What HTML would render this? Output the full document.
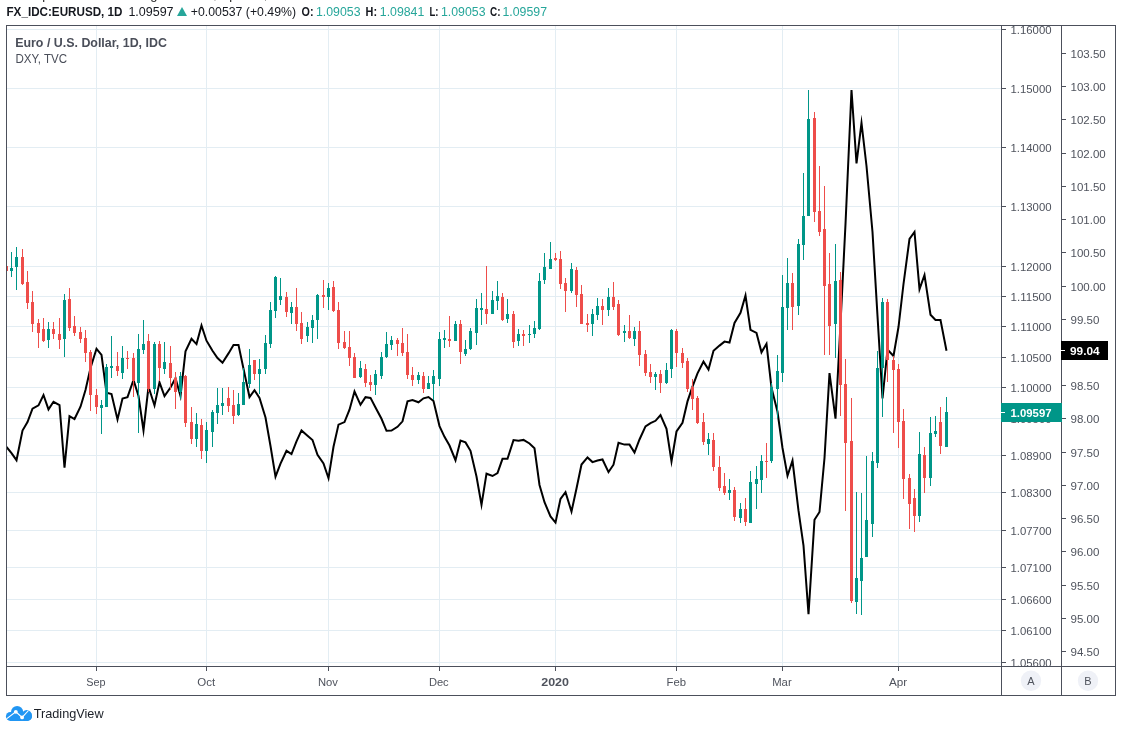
<!DOCTYPE html><html><head><meta charset="utf-8"><title>EURUSD</title>
<style>html,body{margin:0;padding:0;background:#fff;width:1122px;height:750px;overflow:hidden}svg{position:absolute;left:0;top:0;display:block;will-change:transform}text{font-family:"Liberation Sans",sans-serif}</style></head><body>
<svg width="1122" height="750" viewBox="0 0 1122 750">
<rect x="0" y="0" width="1122" height="750" fill="#fff"/>
<defs><clipPath id="pane"><rect x="7" y="26" width="994" height="640"/></clipPath></defs>
<g fill="#e3edf3" shape-rendering="crispEdges">
<rect x="7" y="29" width="994" height="1"/>
<rect x="7" y="88" width="994" height="1"/>
<rect x="7" y="147" width="994" height="1"/>
<rect x="7" y="206" width="994" height="1"/>
<rect x="7" y="266" width="994" height="1"/>
<rect x="7" y="296" width="994" height="1"/>
<rect x="7" y="326" width="994" height="1"/>
<rect x="7" y="357" width="994" height="1"/>
<rect x="7" y="387" width="994" height="1"/>
<rect x="7" y="418" width="994" height="1"/>
<rect x="7" y="455" width="994" height="1"/>
<rect x="7" y="492" width="994" height="1"/>
<rect x="7" y="530" width="994" height="1"/>
<rect x="7" y="567" width="994" height="1"/>
<rect x="7" y="599" width="994" height="1"/>
<rect x="7" y="630" width="994" height="1"/>
<rect x="7" y="662" width="994" height="1"/>
<rect x="96" y="26" width="1" height="640"/>
<rect x="206" y="26" width="1" height="640"/>
<rect x="328" y="26" width="1" height="640"/>
<rect x="439" y="26" width="1" height="640"/>
<rect x="555" y="26" width="1" height="640"/>
<rect x="676" y="26" width="1" height="640"/>
<rect x="782" y="26" width="1" height="640"/>
<rect x="898" y="26" width="1" height="640"/>
</g>
<polyline clip-path="url(#pane)" points="6.5,447.0 11.5,453.2 16.5,460.2 22.5,430.5 27.5,422.1 32.5,408.7 38.5,405.4 43.5,395.0 48.5,409.4 53.5,401.8 59.5,405.0 64.5,467.6 69.5,416.1 74.5,419.0 80.5,406.7 85.5,390.0 90.5,368.0 96.5,348.8 101.5,354.8 106.5,392.8 111.5,394.0 117.5,419.4 122.5,398.5 127.5,397.1 133.5,380.0 138.5,396.0 143.5,430.4 148.5,386.8 154.5,405.5 159.5,382.4 164.5,396.0 170.5,387.5 175.5,378.2 180.5,396.0 185.5,351.4 191.5,338.7 196.5,344.1 201.5,325.4 206.5,340.7 212.5,350.8 217.5,358.1 222.5,362.8 228.5,353.4 233.5,345.0 238.5,345.0 243.5,368.8 249.5,397.0 254.5,390.2 259.5,398.0 265.5,417.5 270.5,446.0 275.5,476.7 280.5,463.7 286.5,450.8 291.5,454.1 296.5,441.4 301.5,430.4 307.5,435.7 312.5,440.0 317.5,454.8 323.5,463.5 328.5,478.2 333.5,446.8 338.5,424.6 344.5,422.1 349.5,409.7 354.5,391.5 360.5,404.8 365.5,397.2 370.5,397.9 375.5,407.5 381.5,418.8 386.5,430.8 391.5,430.6 397.5,426.8 402.5,421.3 407.5,401.4 412.5,400.0 418.5,402.3 423.5,398.3 428.5,397.0 433.5,401.0 439.5,426.1 444.5,436.8 449.5,445.5 455.5,460.2 460.5,440.6 465.5,442.4 470.5,450.8 476.5,476.5 481.5,504.8 486.5,473.7 492.5,476.0 497.5,473.0 502.5,458.8 507.5,458.8 513.5,440.1 518.5,440.8 523.5,439.9 529.5,443.5 534.5,448.3 539.5,485.0 544.5,502.2 550.5,516.5 555.5,522.6 560.5,498.8 565.5,492.1 571.5,511.5 576.5,488.5 581.5,464.5 587.5,457.4 592.5,462.1 597.5,460.5 602.5,459.5 608.5,472.1 613.5,464.7 618.5,442.8 624.5,444.6 629.5,444.6 634.5,452.6 639.5,439.5 645.5,426.4 650.5,423.2 655.5,420.8 660.5,415.0 666.5,428.8 671.5,461.4 676.5,431.5 682.5,422.8 687.5,401.4 692.5,386.7 697.5,373.4 703.5,361.6 708.5,369.5 713.5,350.8 719.5,345.6 724.5,341.6 729.5,342.5 734.5,322.9 740.5,312.8 745.5,295.5 750.5,329.9 756.5,332.9 761.5,352.3 766.5,343.8 771.5,387.8 777.5,411.8 782.5,448.0 787.5,475.8 792.5,460.6 798.5,510.7 803.5,545.5 808.5,614.3 814.5,519.8 819.5,512.0 824.5,458.0 829.5,373.1 835.5,418.6 840.5,324.0 845.5,224.0 851.5,90.0 856.5,163.5 861.5,123.0 866.5,166.0 872.5,232.0 877.5,316.0 882.5,398.5 887.5,349.5 893.5,356.0 898.5,327.0 903.5,284.0 909.5,239.0 914.5,232.0 919.5,289.2 924.5,275.0 930.5,314.7 935.5,320.0 940.5,320.0 946.5,350.7" fill="none" stroke="#000" stroke-width="2" stroke-linejoin="miter" stroke-miterlimit="10"/>
<g clip-path="url(#pane)" shape-rendering="crispEdges">
<rect x="6" y="264" width="1" height="8" fill="#ee4d4a"/><rect x="5" y="266" width="3" height="5" fill="#ee4d4a"/>
<rect x="11" y="252" width="1" height="25" fill="#009688"/><rect x="10" y="268" width="3" height="3" fill="#009688"/>
<rect x="16" y="247" width="1" height="43" fill="#009688"/><rect x="15" y="257" width="3" height="10" fill="#009688"/>
<rect x="22" y="249" width="1" height="36" fill="#ee4d4a"/><rect x="21" y="257" width="3" height="27" fill="#ee4d4a"/>
<rect x="27" y="271" width="1" height="38" fill="#ee4d4a"/><rect x="26" y="282" width="3" height="21" fill="#ee4d4a"/>
<rect x="32" y="291" width="1" height="41" fill="#ee4d4a"/><rect x="31" y="302" width="3" height="22" fill="#ee4d4a"/>
<rect x="38" y="319" width="1" height="29" fill="#ee4d4a"/><rect x="37" y="323" width="3" height="10" fill="#ee4d4a"/>
<rect x="43" y="318" width="1" height="24" fill="#ee4d4a"/><rect x="42" y="329" width="3" height="12" fill="#ee4d4a"/>
<rect x="48" y="322" width="1" height="26" fill="#009688"/><rect x="47" y="329" width="3" height="11" fill="#009688"/>
<rect x="53" y="322" width="1" height="17" fill="#ee4d4a"/><rect x="52" y="329" width="3" height="5" fill="#ee4d4a"/>
<rect x="59" y="318" width="1" height="31" fill="#ee4d4a"/><rect x="58" y="334" width="3" height="6" fill="#ee4d4a"/>
<rect x="64" y="294" width="1" height="63" fill="#009688"/><rect x="63" y="300" width="3" height="39" fill="#009688"/>
<rect x="69" y="288" width="1" height="43" fill="#ee4d4a"/><rect x="68" y="299" width="3" height="29" fill="#ee4d4a"/>
<rect x="74" y="316" width="1" height="20" fill="#ee4d4a"/><rect x="73" y="326" width="3" height="7" fill="#ee4d4a"/>
<rect x="80" y="327" width="1" height="16" fill="#ee4d4a"/><rect x="79" y="332" width="3" height="7" fill="#ee4d4a"/>
<rect x="85" y="330" width="1" height="32" fill="#ee4d4a"/><rect x="84" y="338" width="3" height="15" fill="#ee4d4a"/>
<rect x="90" y="350" width="1" height="61" fill="#ee4d4a"/><rect x="89" y="352" width="3" height="43" fill="#ee4d4a"/>
<rect x="96" y="389" width="1" height="25" fill="#ee4d4a"/><rect x="95" y="395" width="3" height="12" fill="#ee4d4a"/>
<rect x="101" y="400" width="1" height="34" fill="#009688"/><rect x="100" y="405" width="3" height="3" fill="#009688"/>
<rect x="106" y="364" width="1" height="43" fill="#009688"/><rect x="105" y="367" width="3" height="40" fill="#009688"/>
<rect x="111" y="336" width="1" height="42" fill="#009688"/><rect x="110" y="366" width="3" height="2" fill="#009688"/>
<rect x="117" y="352" width="1" height="24" fill="#ee4d4a"/><rect x="116" y="366" width="3" height="5" fill="#ee4d4a"/>
<rect x="122" y="346" width="1" height="33" fill="#009688"/><rect x="121" y="358" width="3" height="15" fill="#009688"/>
<rect x="127" y="351" width="1" height="18" fill="#ee4d4a"/><rect x="126" y="358" width="3" height="1" fill="#ee4d4a"/>
<rect x="133" y="353" width="1" height="44" fill="#ee4d4a"/><rect x="132" y="358" width="3" height="23" fill="#ee4d4a"/>
<rect x="138" y="334" width="1" height="99" fill="#009688"/><rect x="137" y="349" width="3" height="34" fill="#009688"/>
<rect x="143" y="320" width="1" height="34" fill="#009688"/><rect x="142" y="344" width="3" height="6" fill="#009688"/>
<rect x="148" y="334" width="1" height="58" fill="#ee4d4a"/><rect x="147" y="341" width="3" height="48" fill="#ee4d4a"/>
<rect x="154" y="342" width="1" height="52" fill="#009688"/><rect x="153" y="344" width="3" height="45" fill="#009688"/>
<rect x="159" y="341" width="1" height="40" fill="#ee4d4a"/><rect x="158" y="344" width="3" height="24" fill="#ee4d4a"/>
<rect x="164" y="342" width="1" height="32" fill="#009688"/><rect x="163" y="362" width="3" height="7" fill="#009688"/>
<rect x="170" y="346" width="1" height="44" fill="#ee4d4a"/><rect x="169" y="363" width="3" height="15" fill="#ee4d4a"/>
<rect x="175" y="372" width="1" height="37" fill="#ee4d4a"/><rect x="174" y="378" width="3" height="14" fill="#ee4d4a"/>
<rect x="180" y="372" width="1" height="27" fill="#009688"/><rect x="179" y="376" width="3" height="16" fill="#009688"/>
<rect x="185" y="375" width="1" height="52" fill="#ee4d4a"/><rect x="184" y="376" width="3" height="47" fill="#ee4d4a"/>
<rect x="191" y="407" width="1" height="37" fill="#ee4d4a"/><rect x="190" y="422" width="3" height="17" fill="#ee4d4a"/>
<rect x="196" y="413" width="1" height="34" fill="#009688"/><rect x="195" y="424" width="3" height="15" fill="#009688"/>
<rect x="201" y="419" width="1" height="40" fill="#ee4d4a"/><rect x="200" y="425" width="3" height="26" fill="#ee4d4a"/>
<rect x="206" y="422" width="1" height="41" fill="#009688"/><rect x="205" y="430" width="3" height="21" fill="#009688"/>
<rect x="212" y="410" width="1" height="37" fill="#009688"/><rect x="211" y="412" width="3" height="20" fill="#009688"/>
<rect x="217" y="388" width="1" height="36" fill="#009688"/><rect x="216" y="405" width="3" height="8" fill="#009688"/>
<rect x="222" y="388" width="1" height="27" fill="#009688"/><rect x="221" y="403" width="3" height="3" fill="#009688"/>
<rect x="228" y="387" width="1" height="25" fill="#ee4d4a"/><rect x="227" y="398" width="3" height="8" fill="#ee4d4a"/>
<rect x="233" y="390" width="1" height="34" fill="#ee4d4a"/><rect x="232" y="405" width="3" height="11" fill="#ee4d4a"/>
<rect x="238" y="393" width="1" height="23" fill="#009688"/><rect x="237" y="404" width="3" height="11" fill="#009688"/>
<rect x="243" y="368" width="1" height="37" fill="#009688"/><rect x="242" y="382" width="3" height="23" fill="#009688"/>
<rect x="249" y="349" width="1" height="39" fill="#009688"/><rect x="248" y="365" width="3" height="19" fill="#009688"/>
<rect x="254" y="360" width="1" height="20" fill="#ee4d4a"/><rect x="253" y="360" width="3" height="14" fill="#ee4d4a"/>
<rect x="259" y="359" width="1" height="35" fill="#009688"/><rect x="258" y="369" width="3" height="5" fill="#009688"/>
<rect x="265" y="335" width="1" height="39" fill="#009688"/><rect x="264" y="343" width="3" height="26" fill="#009688"/>
<rect x="270" y="302" width="1" height="46" fill="#009688"/><rect x="269" y="310" width="3" height="34" fill="#009688"/>
<rect x="275" y="276" width="1" height="42" fill="#009688"/><rect x="274" y="277" width="3" height="34" fill="#009688"/>
<rect x="280" y="278" width="1" height="27" fill="#009688"/><rect x="279" y="296" width="3" height="4" fill="#009688"/>
<rect x="286" y="292" width="1" height="25" fill="#ee4d4a"/><rect x="285" y="297" width="3" height="15" fill="#ee4d4a"/>
<rect x="291" y="302" width="1" height="22" fill="#009688"/><rect x="290" y="307" width="3" height="6" fill="#009688"/>
<rect x="296" y="288" width="1" height="43" fill="#ee4d4a"/><rect x="295" y="307" width="3" height="17" fill="#ee4d4a"/>
<rect x="301" y="312" width="1" height="32" fill="#ee4d4a"/><rect x="300" y="323" width="3" height="16" fill="#ee4d4a"/>
<rect x="307" y="322" width="1" height="20" fill="#009688"/><rect x="306" y="327" width="3" height="9" fill="#009688"/>
<rect x="312" y="315" width="1" height="28" fill="#009688"/><rect x="311" y="320" width="3" height="8" fill="#009688"/>
<rect x="317" y="294" width="1" height="45" fill="#009688"/><rect x="316" y="295" width="3" height="25" fill="#009688"/>
<rect x="323" y="280" width="1" height="28" fill="#ee4d4a"/><rect x="322" y="295" width="3" height="2" fill="#ee4d4a"/>
<rect x="328" y="283" width="1" height="27" fill="#009688"/><rect x="327" y="288" width="3" height="9" fill="#009688"/>
<rect x="333" y="281" width="1" height="31" fill="#ee4d4a"/><rect x="332" y="287" width="3" height="24" fill="#ee4d4a"/>
<rect x="338" y="302" width="1" height="47" fill="#ee4d4a"/><rect x="337" y="310" width="3" height="33" fill="#ee4d4a"/>
<rect x="344" y="331" width="1" height="18" fill="#ee4d4a"/><rect x="343" y="342" width="3" height="6" fill="#ee4d4a"/>
<rect x="349" y="331" width="1" height="35" fill="#ee4d4a"/><rect x="348" y="347" width="3" height="11" fill="#ee4d4a"/>
<rect x="354" y="353" width="1" height="25" fill="#ee4d4a"/><rect x="353" y="357" width="3" height="21" fill="#ee4d4a"/>
<rect x="360" y="361" width="1" height="17" fill="#009688"/><rect x="359" y="368" width="3" height="9" fill="#009688"/>
<rect x="365" y="364" width="1" height="23" fill="#ee4d4a"/><rect x="364" y="369" width="3" height="14" fill="#ee4d4a"/>
<rect x="370" y="375" width="1" height="16" fill="#ee4d4a"/><rect x="369" y="382" width="3" height="3" fill="#ee4d4a"/>
<rect x="375" y="370" width="1" height="25" fill="#009688"/><rect x="374" y="374" width="3" height="11" fill="#009688"/>
<rect x="381" y="352" width="1" height="27" fill="#009688"/><rect x="380" y="357" width="3" height="19" fill="#009688"/>
<rect x="386" y="332" width="1" height="26" fill="#009688"/><rect x="385" y="344" width="3" height="13" fill="#009688"/>
<rect x="391" y="336" width="1" height="14" fill="#009688"/><rect x="390" y="340" width="3" height="5" fill="#009688"/>
<rect x="397" y="338" width="1" height="18" fill="#ee4d4a"/><rect x="396" y="340" width="3" height="4" fill="#ee4d4a"/>
<rect x="402" y="328" width="1" height="28" fill="#ee4d4a"/><rect x="401" y="343" width="3" height="10" fill="#ee4d4a"/>
<rect x="407" y="334" width="1" height="45" fill="#ee4d4a"/><rect x="406" y="352" width="3" height="23" fill="#ee4d4a"/>
<rect x="412" y="367" width="1" height="19" fill="#ee4d4a"/><rect x="411" y="375" width="3" height="5" fill="#ee4d4a"/>
<rect x="418" y="372" width="1" height="12" fill="#009688"/><rect x="417" y="375" width="3" height="5" fill="#009688"/>
<rect x="423" y="372" width="1" height="21" fill="#ee4d4a"/><rect x="422" y="376" width="3" height="13" fill="#ee4d4a"/>
<rect x="428" y="376" width="1" height="13" fill="#009688"/><rect x="427" y="383" width="3" height="6" fill="#009688"/>
<rect x="433" y="370" width="1" height="30" fill="#009688"/><rect x="432" y="376" width="3" height="8" fill="#009688"/>
<rect x="439" y="332" width="1" height="54" fill="#009688"/><rect x="438" y="339" width="3" height="40" fill="#009688"/>
<rect x="444" y="330" width="1" height="18" fill="#009688"/><rect x="443" y="338" width="3" height="2" fill="#009688"/>
<rect x="449" y="316" width="1" height="31" fill="#ee4d4a"/><rect x="448" y="339" width="3" height="2" fill="#ee4d4a"/>
<rect x="455" y="321" width="1" height="20" fill="#009688"/><rect x="454" y="324" width="3" height="17" fill="#009688"/>
<rect x="460" y="320" width="1" height="44" fill="#ee4d4a"/><rect x="459" y="324" width="3" height="28" fill="#ee4d4a"/>
<rect x="465" y="340" width="1" height="16" fill="#009688"/><rect x="464" y="349" width="3" height="5" fill="#009688"/>
<rect x="470" y="328" width="1" height="22" fill="#009688"/><rect x="469" y="331" width="3" height="18" fill="#009688"/>
<rect x="476" y="299" width="1" height="46" fill="#009688"/><rect x="475" y="308" width="3" height="25" fill="#009688"/>
<rect x="481" y="293" width="1" height="32" fill="#009688"/><rect x="480" y="308" width="3" height="2" fill="#009688"/>
<rect x="486" y="266" width="1" height="58" fill="#ee4d4a"/><rect x="485" y="309" width="3" height="5" fill="#ee4d4a"/>
<rect x="492" y="291" width="1" height="23" fill="#009688"/><rect x="491" y="300" width="3" height="14" fill="#009688"/>
<rect x="497" y="281" width="1" height="29" fill="#009688"/><rect x="496" y="296" width="3" height="5" fill="#009688"/>
<rect x="502" y="293" width="1" height="28" fill="#ee4d4a"/><rect x="501" y="297" width="3" height="23" fill="#ee4d4a"/>
<rect x="507" y="299" width="1" height="24" fill="#009688"/><rect x="506" y="314" width="3" height="5" fill="#009688"/>
<rect x="513" y="311" width="1" height="37" fill="#ee4d4a"/><rect x="512" y="314" width="3" height="28" fill="#ee4d4a"/>
<rect x="518" y="329" width="1" height="17" fill="#009688"/><rect x="517" y="334" width="3" height="7" fill="#009688"/>
<rect x="523" y="330" width="1" height="16" fill="#ee4d4a"/><rect x="522" y="334" width="3" height="2" fill="#ee4d4a"/>
<rect x="529" y="325" width="1" height="18" fill="#009688"/><rect x="528" y="334" width="3" height="1" fill="#009688"/>
<rect x="534" y="321" width="1" height="17" fill="#009688"/><rect x="533" y="328" width="3" height="6" fill="#009688"/>
<rect x="539" y="273" width="1" height="57" fill="#009688"/><rect x="538" y="281" width="3" height="48" fill="#009688"/>
<rect x="544" y="253" width="1" height="31" fill="#009688"/><rect x="543" y="267" width="3" height="13" fill="#009688"/>
<rect x="550" y="242" width="1" height="27" fill="#009688"/><rect x="549" y="259" width="3" height="10" fill="#009688"/>
<rect x="555" y="253" width="1" height="8" fill="#ee4d4a"/><rect x="554" y="258" width="3" height="2" fill="#ee4d4a"/>
<rect x="560" y="251" width="1" height="38" fill="#ee4d4a"/><rect x="559" y="259" width="3" height="25" fill="#ee4d4a"/>
<rect x="565" y="278" width="1" height="34" fill="#ee4d4a"/><rect x="564" y="283" width="3" height="8" fill="#ee4d4a"/>
<rect x="571" y="263" width="1" height="30" fill="#009688"/><rect x="570" y="269" width="3" height="22" fill="#009688"/>
<rect x="576" y="267" width="1" height="40" fill="#ee4d4a"/><rect x="575" y="270" width="3" height="25" fill="#ee4d4a"/>
<rect x="581" y="285" width="1" height="39" fill="#ee4d4a"/><rect x="580" y="294" width="3" height="30" fill="#ee4d4a"/>
<rect x="587" y="314" width="1" height="18" fill="#ee4d4a"/><rect x="586" y="323" width="3" height="2" fill="#ee4d4a"/>
<rect x="592" y="309" width="1" height="27" fill="#009688"/><rect x="591" y="314" width="3" height="10" fill="#009688"/>
<rect x="597" y="298" width="1" height="22" fill="#009688"/><rect x="596" y="306" width="3" height="9" fill="#009688"/>
<rect x="602" y="299" width="1" height="26" fill="#ee4d4a"/><rect x="601" y="306" width="3" height="4" fill="#ee4d4a"/>
<rect x="608" y="288" width="1" height="28" fill="#009688"/><rect x="607" y="297" width="3" height="13" fill="#009688"/>
<rect x="613" y="282" width="1" height="28" fill="#ee4d4a"/><rect x="612" y="297" width="3" height="10" fill="#ee4d4a"/>
<rect x="618" y="300" width="1" height="36" fill="#ee4d4a"/><rect x="617" y="304" width="3" height="31" fill="#ee4d4a"/>
<rect x="624" y="325" width="1" height="17" fill="#009688"/><rect x="623" y="331" width="3" height="2" fill="#009688"/>
<rect x="629" y="315" width="1" height="24" fill="#ee4d4a"/><rect x="628" y="331" width="3" height="7" fill="#ee4d4a"/>
<rect x="634" y="327" width="1" height="19" fill="#009688"/><rect x="633" y="331" width="3" height="8" fill="#009688"/>
<rect x="639" y="321" width="1" height="45" fill="#ee4d4a"/><rect x="638" y="331" width="3" height="24" fill="#ee4d4a"/>
<rect x="645" y="350" width="1" height="26" fill="#ee4d4a"/><rect x="644" y="354" width="3" height="19" fill="#ee4d4a"/>
<rect x="650" y="364" width="1" height="19" fill="#ee4d4a"/><rect x="649" y="372" width="3" height="5" fill="#ee4d4a"/>
<rect x="655" y="372" width="1" height="18" fill="#009688"/><rect x="654" y="374" width="3" height="3" fill="#009688"/>
<rect x="660" y="370" width="1" height="23" fill="#ee4d4a"/><rect x="659" y="374" width="3" height="9" fill="#ee4d4a"/>
<rect x="666" y="363" width="1" height="21" fill="#009688"/><rect x="665" y="370" width="3" height="13" fill="#009688"/>
<rect x="671" y="329" width="1" height="49" fill="#009688"/><rect x="670" y="330" width="3" height="39" fill="#009688"/>
<rect x="676" y="329" width="1" height="38" fill="#ee4d4a"/><rect x="675" y="331" width="3" height="22" fill="#ee4d4a"/>
<rect x="682" y="348" width="1" height="20" fill="#ee4d4a"/><rect x="681" y="353" width="3" height="10" fill="#ee4d4a"/>
<rect x="687" y="358" width="1" height="34" fill="#ee4d4a"/><rect x="686" y="361" width="3" height="28" fill="#ee4d4a"/>
<rect x="692" y="379" width="1" height="31" fill="#ee4d4a"/><rect x="691" y="387" width="3" height="12" fill="#ee4d4a"/>
<rect x="697" y="396" width="1" height="28" fill="#ee4d4a"/><rect x="696" y="398" width="3" height="25" fill="#ee4d4a"/>
<rect x="703" y="413" width="1" height="32" fill="#ee4d4a"/><rect x="702" y="422" width="3" height="20" fill="#ee4d4a"/>
<rect x="708" y="433" width="1" height="22" fill="#009688"/><rect x="707" y="439" width="3" height="5" fill="#009688"/>
<rect x="713" y="433" width="1" height="38" fill="#ee4d4a"/><rect x="712" y="440" width="3" height="27" fill="#ee4d4a"/>
<rect x="719" y="456" width="1" height="35" fill="#ee4d4a"/><rect x="718" y="467" width="3" height="21" fill="#ee4d4a"/>
<rect x="724" y="473" width="1" height="22" fill="#ee4d4a"/><rect x="723" y="486" width="3" height="7" fill="#ee4d4a"/>
<rect x="729" y="479" width="1" height="21" fill="#009688"/><rect x="728" y="490" width="3" height="3" fill="#009688"/>
<rect x="734" y="487" width="1" height="34" fill="#ee4d4a"/><rect x="733" y="490" width="3" height="27" fill="#ee4d4a"/>
<rect x="740" y="503" width="1" height="20" fill="#009688"/><rect x="739" y="509" width="3" height="9" fill="#009688"/>
<rect x="745" y="498" width="1" height="28" fill="#ee4d4a"/><rect x="744" y="509" width="3" height="13" fill="#ee4d4a"/>
<rect x="750" y="471" width="1" height="52" fill="#009688"/><rect x="749" y="482" width="3" height="41" fill="#009688"/>
<rect x="756" y="466" width="1" height="43" fill="#009688"/><rect x="755" y="479" width="3" height="5" fill="#009688"/>
<rect x="761" y="455" width="1" height="38" fill="#009688"/><rect x="760" y="461" width="3" height="19" fill="#009688"/>
<rect x="766" y="443" width="1" height="35" fill="#ee4d4a"/><rect x="765" y="461" width="3" height="1" fill="#ee4d4a"/>
<rect x="771" y="383" width="1" height="80" fill="#009688"/><rect x="770" y="387" width="3" height="74" fill="#009688"/>
<rect x="777" y="355" width="1" height="63" fill="#009688"/><rect x="776" y="371" width="3" height="18" fill="#009688"/>
<rect x="782" y="275" width="1" height="107" fill="#009688"/><rect x="781" y="307" width="3" height="66" fill="#009688"/>
<rect x="787" y="258" width="1" height="72" fill="#009688"/><rect x="786" y="283" width="3" height="25" fill="#009688"/>
<rect x="792" y="273" width="1" height="57" fill="#ee4d4a"/><rect x="791" y="283" width="3" height="24" fill="#ee4d4a"/>
<rect x="798" y="239" width="1" height="76" fill="#009688"/><rect x="797" y="244" width="3" height="62" fill="#009688"/>
<rect x="803" y="173" width="1" height="87" fill="#009688"/><rect x="802" y="216" width="3" height="29" fill="#009688"/>
<rect x="808" y="90" width="1" height="126" fill="#009688"/><rect x="807" y="119" width="3" height="97" fill="#009688"/>
<rect x="814" y="112" width="1" height="110" fill="#ee4d4a"/><rect x="813" y="118" width="3" height="94" fill="#ee4d4a"/>
<rect x="819" y="166" width="1" height="70" fill="#ee4d4a"/><rect x="818" y="211" width="3" height="21" fill="#ee4d4a"/>
<rect x="824" y="186" width="1" height="169" fill="#ee4d4a"/><rect x="823" y="229" width="3" height="57" fill="#ee4d4a"/>
<rect x="829" y="253" width="1" height="102" fill="#ee4d4a"/><rect x="828" y="284" width="3" height="42" fill="#ee4d4a"/>
<rect x="835" y="244" width="1" height="114" fill="#009688"/><rect x="834" y="281" width="3" height="43" fill="#009688"/>
<rect x="840" y="272" width="1" height="144" fill="#ee4d4a"/><rect x="839" y="280" width="3" height="105" fill="#ee4d4a"/>
<rect x="845" y="359" width="1" height="152" fill="#ee4d4a"/><rect x="844" y="384" width="3" height="59" fill="#ee4d4a"/>
<rect x="851" y="398" width="1" height="205" fill="#ee4d4a"/><rect x="850" y="441" width="3" height="160" fill="#ee4d4a"/>
<rect x="856" y="492" width="1" height="122" fill="#009688"/><rect x="855" y="578" width="3" height="24" fill="#009688"/>
<rect x="861" y="493" width="1" height="122" fill="#009688"/><rect x="860" y="558" width="3" height="23" fill="#009688"/>
<rect x="866" y="456" width="1" height="101" fill="#009688"/><rect x="865" y="520" width="3" height="37" fill="#009688"/>
<rect x="872" y="452" width="1" height="85" fill="#009688"/><rect x="871" y="461" width="3" height="63" fill="#009688"/>
<rect x="877" y="351" width="1" height="117" fill="#009688"/><rect x="876" y="368" width="3" height="95" fill="#009688"/>
<rect x="882" y="298" width="1" height="119" fill="#009688"/><rect x="881" y="302" width="3" height="66" fill="#009688"/>
<rect x="887" y="299" width="1" height="83" fill="#ee4d4a"/><rect x="886" y="302" width="3" height="58" fill="#ee4d4a"/>
<rect x="893" y="356" width="1" height="77" fill="#ee4d4a"/><rect x="892" y="360" width="3" height="10" fill="#ee4d4a"/>
<rect x="898" y="364" width="1" height="84" fill="#ee4d4a"/><rect x="897" y="369" width="3" height="53" fill="#ee4d4a"/>
<rect x="903" y="409" width="1" height="90" fill="#ee4d4a"/><rect x="902" y="421" width="3" height="58" fill="#ee4d4a"/>
<rect x="909" y="474" width="1" height="55" fill="#ee4d4a"/><rect x="908" y="478" width="3" height="26" fill="#ee4d4a"/>
<rect x="914" y="489" width="1" height="43" fill="#ee4d4a"/><rect x="913" y="498" width="3" height="18" fill="#ee4d4a"/>
<rect x="919" y="432" width="1" height="90" fill="#009688"/><rect x="918" y="454" width="3" height="62" fill="#009688"/>
<rect x="924" y="447" width="1" height="46" fill="#ee4d4a"/><rect x="923" y="455" width="3" height="23" fill="#ee4d4a"/>
<rect x="930" y="417" width="1" height="69" fill="#009688"/><rect x="929" y="433" width="3" height="45" fill="#009688"/>
<rect x="935" y="416" width="1" height="21" fill="#009688"/><rect x="934" y="431" width="3" height="3" fill="#009688"/>
<rect x="940" y="407" width="1" height="47" fill="#ee4d4a"/><rect x="939" y="422" width="3" height="24" fill="#ee4d4a"/>
<rect x="946" y="397" width="1" height="50" fill="#009688"/><rect x="945" y="412" width="3" height="35" fill="#009688"/>
</g>
<g fill="#4c505b" shape-rendering="crispEdges">
<rect x="6" y="25" width="1110" height="1"/>
<rect x="6" y="695" width="1110" height="1"/>
<rect x="6" y="25" width="1" height="671"/>
<rect x="1115" y="25" width="1" height="671"/>
<rect x="1001" y="25" width="1" height="671"/>
<rect x="1061" y="25" width="1" height="671"/>
<rect x="6" y="666" width="1110" height="1"/>
<rect x="96" y="667" width="1" height="4"/>
<rect x="206" y="667" width="1" height="4"/>
<rect x="328" y="667" width="1" height="4"/>
<rect x="439" y="667" width="1" height="4"/>
<rect x="555" y="667" width="1" height="4"/>
<rect x="676" y="667" width="1" height="4"/>
<rect x="782" y="667" width="1" height="4"/>
<rect x="898" y="667" width="1" height="4"/>
</g>
<defs><clipPath id="axA"><rect x="1002" y="26" width="59" height="640"/></clipPath><clipPath id="axB"><rect x="1062" y="26" width="53" height="640"/></clipPath></defs>
<g clip-path="url(#axA)" font-size="11.7" fill="#4f535d">
<rect x="1002" y="29" width="4" height="1" fill="#4c505b" shape-rendering="crispEdges"/>
<text x="1010.5" y="33.8" textLength="41" lengthAdjust="spacingAndGlyphs">1.16000</text>
<rect x="1002" y="88" width="4" height="1" fill="#4c505b" shape-rendering="crispEdges"/>
<text x="1010.5" y="92.8" textLength="41" lengthAdjust="spacingAndGlyphs">1.15000</text>
<rect x="1002" y="147" width="4" height="1" fill="#4c505b" shape-rendering="crispEdges"/>
<text x="1010.5" y="151.8" textLength="41" lengthAdjust="spacingAndGlyphs">1.14000</text>
<rect x="1002" y="206" width="4" height="1" fill="#4c505b" shape-rendering="crispEdges"/>
<text x="1010.5" y="210.8" textLength="41" lengthAdjust="spacingAndGlyphs">1.13000</text>
<rect x="1002" y="266" width="4" height="1" fill="#4c505b" shape-rendering="crispEdges"/>
<text x="1010.5" y="270.8" textLength="41" lengthAdjust="spacingAndGlyphs">1.12000</text>
<rect x="1002" y="296" width="4" height="1" fill="#4c505b" shape-rendering="crispEdges"/>
<text x="1010.5" y="300.8" textLength="41" lengthAdjust="spacingAndGlyphs">1.11500</text>
<rect x="1002" y="326" width="4" height="1" fill="#4c505b" shape-rendering="crispEdges"/>
<text x="1010.5" y="330.8" textLength="41" lengthAdjust="spacingAndGlyphs">1.11000</text>
<rect x="1002" y="357" width="4" height="1" fill="#4c505b" shape-rendering="crispEdges"/>
<text x="1010.5" y="361.8" textLength="41" lengthAdjust="spacingAndGlyphs">1.10500</text>
<rect x="1002" y="387" width="4" height="1" fill="#4c505b" shape-rendering="crispEdges"/>
<text x="1010.5" y="391.8" textLength="41" lengthAdjust="spacingAndGlyphs">1.10000</text>
<rect x="1002" y="418" width="4" height="1" fill="#4c505b" shape-rendering="crispEdges"/>
<text x="1010.5" y="422.8" textLength="41" lengthAdjust="spacingAndGlyphs">1.09500</text>
<rect x="1002" y="455" width="4" height="1" fill="#4c505b" shape-rendering="crispEdges"/>
<text x="1010.5" y="459.8" textLength="41" lengthAdjust="spacingAndGlyphs">1.08900</text>
<rect x="1002" y="492" width="4" height="1" fill="#4c505b" shape-rendering="crispEdges"/>
<text x="1010.5" y="496.8" textLength="41" lengthAdjust="spacingAndGlyphs">1.08300</text>
<rect x="1002" y="530" width="4" height="1" fill="#4c505b" shape-rendering="crispEdges"/>
<text x="1010.5" y="534.8" textLength="41" lengthAdjust="spacingAndGlyphs">1.07700</text>
<rect x="1002" y="567" width="4" height="1" fill="#4c505b" shape-rendering="crispEdges"/>
<text x="1010.5" y="571.8" textLength="41" lengthAdjust="spacingAndGlyphs">1.07100</text>
<rect x="1002" y="599" width="4" height="1" fill="#4c505b" shape-rendering="crispEdges"/>
<text x="1010.5" y="603.8" textLength="41" lengthAdjust="spacingAndGlyphs">1.06600</text>
<rect x="1002" y="630" width="4" height="1" fill="#4c505b" shape-rendering="crispEdges"/>
<text x="1010.5" y="634.8" textLength="41" lengthAdjust="spacingAndGlyphs">1.06100</text>
<rect x="1002" y="662" width="4" height="1" fill="#4c505b" shape-rendering="crispEdges"/>
<text x="1010.5" y="666.8" textLength="41" lengthAdjust="spacingAndGlyphs">1.05600</text>
</g>
<g clip-path="url(#axB)" font-size="11.7" fill="#4f535d">
<rect x="1062" y="53" width="4" height="1" fill="#4c505b" shape-rendering="crispEdges"/>
<text x="1070.5" y="57.8" textLength="35.2" lengthAdjust="spacingAndGlyphs">103.50</text>
<rect x="1062" y="86" width="4" height="1" fill="#4c505b" shape-rendering="crispEdges"/>
<text x="1070.5" y="90.8" textLength="35.2" lengthAdjust="spacingAndGlyphs">103.00</text>
<rect x="1062" y="119" width="4" height="1" fill="#4c505b" shape-rendering="crispEdges"/>
<text x="1070.5" y="123.8" textLength="35.2" lengthAdjust="spacingAndGlyphs">102.50</text>
<rect x="1062" y="153" width="4" height="1" fill="#4c505b" shape-rendering="crispEdges"/>
<text x="1070.5" y="157.8" textLength="35.2" lengthAdjust="spacingAndGlyphs">102.00</text>
<rect x="1062" y="186" width="4" height="1" fill="#4c505b" shape-rendering="crispEdges"/>
<text x="1070.5" y="190.8" textLength="35.2" lengthAdjust="spacingAndGlyphs">101.50</text>
<rect x="1062" y="219" width="4" height="1" fill="#4c505b" shape-rendering="crispEdges"/>
<text x="1070.5" y="223.8" textLength="35.2" lengthAdjust="spacingAndGlyphs">101.00</text>
<rect x="1062" y="252" width="4" height="1" fill="#4c505b" shape-rendering="crispEdges"/>
<text x="1070.5" y="256.8" textLength="35.2" lengthAdjust="spacingAndGlyphs">100.50</text>
<rect x="1062" y="286" width="4" height="1" fill="#4c505b" shape-rendering="crispEdges"/>
<text x="1070.5" y="290.8" textLength="35.2" lengthAdjust="spacingAndGlyphs">100.00</text>
<rect x="1062" y="319" width="4" height="1" fill="#4c505b" shape-rendering="crispEdges"/>
<text x="1070.5" y="323.8" textLength="28.9" lengthAdjust="spacingAndGlyphs">99.50</text>
<rect x="1062" y="352" width="4" height="1" fill="#4c505b" shape-rendering="crispEdges"/>
<text x="1070.5" y="356.8" textLength="28.9" lengthAdjust="spacingAndGlyphs">99.00</text>
<rect x="1062" y="385" width="4" height="1" fill="#4c505b" shape-rendering="crispEdges"/>
<text x="1070.5" y="389.8" textLength="28.9" lengthAdjust="spacingAndGlyphs">98.50</text>
<rect x="1062" y="418" width="4" height="1" fill="#4c505b" shape-rendering="crispEdges"/>
<text x="1070.5" y="422.8" textLength="28.9" lengthAdjust="spacingAndGlyphs">98.00</text>
<rect x="1062" y="452" width="4" height="1" fill="#4c505b" shape-rendering="crispEdges"/>
<text x="1070.5" y="456.8" textLength="28.9" lengthAdjust="spacingAndGlyphs">97.50</text>
<rect x="1062" y="485" width="4" height="1" fill="#4c505b" shape-rendering="crispEdges"/>
<text x="1070.5" y="489.8" textLength="28.9" lengthAdjust="spacingAndGlyphs">97.00</text>
<rect x="1062" y="518" width="4" height="1" fill="#4c505b" shape-rendering="crispEdges"/>
<text x="1070.5" y="522.8" textLength="28.9" lengthAdjust="spacingAndGlyphs">96.50</text>
<rect x="1062" y="551" width="4" height="1" fill="#4c505b" shape-rendering="crispEdges"/>
<text x="1070.5" y="555.8" textLength="28.9" lengthAdjust="spacingAndGlyphs">96.00</text>
<rect x="1062" y="585" width="4" height="1" fill="#4c505b" shape-rendering="crispEdges"/>
<text x="1070.5" y="589.8" textLength="28.9" lengthAdjust="spacingAndGlyphs">95.50</text>
<rect x="1062" y="618" width="4" height="1" fill="#4c505b" shape-rendering="crispEdges"/>
<text x="1070.5" y="622.8" textLength="28.9" lengthAdjust="spacingAndGlyphs">95.00</text>
<rect x="1062" y="651" width="4" height="1" fill="#4c505b" shape-rendering="crispEdges"/>
<text x="1070.5" y="655.8" textLength="28.9" lengthAdjust="spacingAndGlyphs">94.50</text>
</g>
<rect x="1001" y="403" width="61" height="19" fill="#009688" shape-rendering="crispEdges"/>
<rect x="1001" y="412" width="4" height="1" fill="#fff" shape-rendering="crispEdges"/>
<text x="1010.5" y="416.7" font-size="11.3" font-weight="bold" fill="#fff" textLength="41" lengthAdjust="spacingAndGlyphs">1.09597</text>
<rect x="1061" y="341" width="47" height="19" fill="#000" shape-rendering="crispEdges"/>
<rect x="1061" y="350" width="4" height="1" fill="#fff" shape-rendering="crispEdges"/>
<text x="1070" y="354.6" font-size="11.3" font-weight="bold" fill="#fff" textLength="29.7" lengthAdjust="spacingAndGlyphs">99.04</text>
<text x="86.2" y="685.7" font-size="11.7" fill="#4f535d" textLength="19.3" lengthAdjust="spacingAndGlyphs">Sep</text>
<text x="197.2" y="685.7" font-size="11.7" fill="#4f535d" textLength="17.9" lengthAdjust="spacingAndGlyphs">Oct</text>
<text x="318" y="685.7" font-size="11.7" fill="#4f535d" textLength="20" lengthAdjust="spacingAndGlyphs">Nov</text>
<text x="428.9" y="685.7" font-size="11.7" fill="#4f535d" textLength="19.8" lengthAdjust="spacingAndGlyphs">Dec</text>
<text x="541.2" y="685.7" font-size="11.7" fill="#4f535d" font-weight="bold" textLength="27.8" lengthAdjust="spacingAndGlyphs">2020</text>
<text x="666.6" y="685.7" font-size="11.7" fill="#4f535d" textLength="19.5" lengthAdjust="spacingAndGlyphs">Feb</text>
<text x="772.2" y="685.7" font-size="11.7" fill="#4f535d" textLength="19.5" lengthAdjust="spacingAndGlyphs">Mar</text>
<text x="889" y="685.7" font-size="11.7" fill="#4f535d" textLength="18.2" lengthAdjust="spacingAndGlyphs">Apr</text>
<circle cx="1031" cy="680.8" r="10.2" fill="#eff1f7"/>
<text x="1031" y="684.8" font-size="11" fill="#4f535d" text-anchor="middle">A</text>
<circle cx="1088" cy="680.8" r="10.2" fill="#eff1f7"/>
<text x="1088" y="684.8" font-size="11" fill="#4f535d" text-anchor="middle">B</text>
<text x="15.2" y="47" font-size="11.9" font-weight="bold" fill="#4a4e59" textLength="151.7" lengthAdjust="spacingAndGlyphs">Euro / U.S. Dollar, 1D, IDC</text>
<text x="15.4" y="63.2" font-size="12" fill="#4a4e59" textLength="51.6" lengthAdjust="spacingAndGlyphs">DXY, TVC</text>
<text x="6.5" y="16" font-size="12" fill="#15181f" font-weight="bold" textLength="116" lengthAdjust="spacingAndGlyphs">FX_IDC:EURUSD, 1D</text>
<text x="128.4" y="16" font-size="12" fill="#15181f" textLength="45.2" lengthAdjust="spacingAndGlyphs">1.09597</text>
<path d="M177 16 L182 7 L187 16 Z" fill="#26a69a"/>
<text x="190.8" y="16" font-size="12" fill="#15181f" textLength="105.2" lengthAdjust="spacingAndGlyphs">+0.00537 (+0.49%)</text>
<text x="301.5" y="16" font-size="12" fill="#15181f" font-weight="bold" textLength="12" lengthAdjust="spacingAndGlyphs">O:</text>
<text x="316" y="16" font-size="12" fill="#26a69a" textLength="44.5" lengthAdjust="spacingAndGlyphs">1.09053</text>
<text x="365.6" y="16" font-size="12" fill="#15181f" font-weight="bold" textLength="11.5" lengthAdjust="spacingAndGlyphs">H:</text>
<text x="379.8" y="16" font-size="12" fill="#26a69a" textLength="44.5" lengthAdjust="spacingAndGlyphs">1.09841</text>
<text x="429.4" y="16" font-size="12" fill="#15181f" font-weight="bold" textLength="9" lengthAdjust="spacingAndGlyphs">L:</text>
<text x="441" y="16" font-size="12" fill="#26a69a" textLength="44.5" lengthAdjust="spacingAndGlyphs">1.09053</text>
<text x="490" y="16" font-size="12" fill="#15181f" font-weight="bold" textLength="10.5" lengthAdjust="spacingAndGlyphs">C:</text>
<text x="502.5" y="16" font-size="12" fill="#26a69a" textLength="44.5" lengthAdjust="spacingAndGlyphs">1.09597</text>
<text x="42.3" y="-1.3" font-size="13" fill="#222">p</text>
<text x="150.3" y="-1.3" font-size="13" fill="#222">g</text>
<text x="213.3" y="-1.3" font-size="13" fill="#222">,</text>
<text x="229.2" y="-1.3" font-size="13" fill="#222">p</text>
<text x="263.8" y="-1.3" font-size="13" fill="#222">,</text>
<g fill="#2196f3"><rect x="5.9" y="712" width="26.1" height="8.9" rx="4.45" ry="4.45"/><circle cx="17.1" cy="712" r="6.1"/><circle cx="26.7" cy="715.4" r="5.3"/></g>
<polyline points="6.5,718.9 15.8,711.8 22.1,717.4 28.5,710.5" fill="none" stroke="#fff" stroke-width="1.1"/>
<circle cx="15.8" cy="711.8" r="1.9" fill="#fff"/><circle cx="22.1" cy="717.4" r="1.9" fill="#fff"/>
<text x="33.7" y="717.8" font-size="12.6" fill="#1c2028" textLength="69.9" lengthAdjust="spacingAndGlyphs">TradingView</text>
</svg></body></html>
